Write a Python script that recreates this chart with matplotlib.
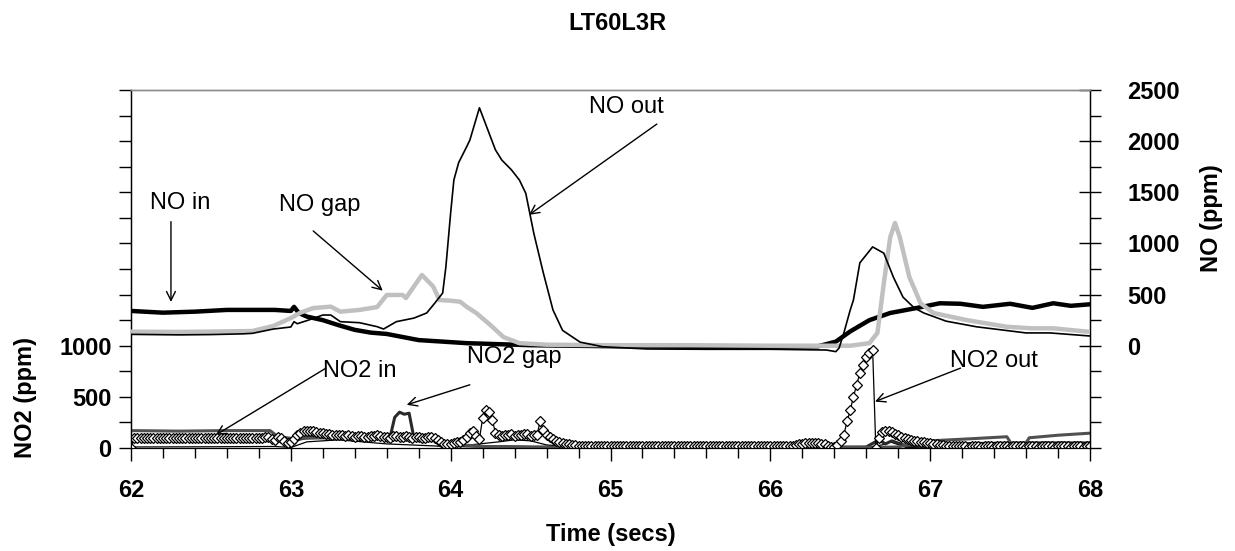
import numpy as np
import matplotlib.pyplot as plt
from matplotlib.ticker import FixedLocator, NullFormatter

plt.rcParams['font.family'] = ['Liberation Sans', 'DejaVu Sans']

no_in_t = [62.0, 62.2, 62.4, 62.6, 62.9, 63.0, 63.02, 63.05, 63.1, 63.2, 63.3, 63.4,
           63.5, 63.6, 63.7, 63.8, 63.9, 64.0, 64.1, 64.3, 64.5, 65.0, 65.5, 66.0,
           66.3, 66.41, 66.5, 66.62, 66.75, 66.92, 67.06, 67.19, 67.33, 67.5, 67.64,
           67.77, 67.88, 68.0]
no_in = [340, 323, 333, 350, 350, 340, 380, 320, 285, 250, 200, 155,
         128, 115, 85, 55, 45, 35, 25, 15, 5, -5, -10, -10,
         -5, 40, 140, 250, 320, 370, 415, 410, 380, 410, 370,
         415, 390, 405]

no_gap_t = [62.0, 62.3, 62.5, 62.76, 62.89, 63.0, 63.06, 63.14, 63.25, 63.31, 63.43,
            63.54, 63.6, 63.7, 63.72, 63.82, 63.89, 63.93, 64.0, 64.06, 64.1, 64.16,
            64.25, 64.33, 64.43, 64.6, 65.0, 65.5, 66.0, 66.5, 66.62, 66.67, 66.71,
            66.75, 66.78, 66.81, 66.87, 66.94, 67.02, 67.23, 67.48, 67.64, 67.77, 68.0]
no_gap = [137, 135, 138, 144, 193, 270, 323, 368, 382, 333, 350,
          378, 496, 496, 466, 692, 580, 447, 440, 430, 380, 320,
          200, 85, 25, 10, 5, 5, 0, 0, 25, 125, 610,
          1060, 1200, 1060, 670, 415, 320, 250, 185, 170, 170, 135]

no_out_t = [62.0, 62.3, 62.5, 62.7, 62.76, 62.89, 63.0, 63.02, 63.04, 63.1, 63.2, 63.25,
            63.31, 63.43, 63.54, 63.58, 63.66, 63.77, 63.85, 63.9, 63.95, 63.97, 64.0,
            64.02, 64.05, 64.1, 64.12, 64.18, 64.28, 64.32, 64.38, 64.43, 64.47, 64.52,
            64.58, 64.64, 64.7, 64.81, 64.92, 64.95, 65.23, 65.6, 66.0, 66.35, 66.41,
            66.43, 66.46, 66.5, 66.52, 66.56, 66.64, 66.71, 66.77, 66.83, 66.9, 66.96,
            67.1, 67.29, 67.6, 67.75, 68.0]
no_out = [111, 106, 109, 116, 121, 163, 183, 235, 215, 245, 300, 300,
          235, 225, 186, 163, 235, 270, 320, 415, 515, 770, 1300,
          1620, 1790, 1945, 2010, 2326, 1915, 1815, 1720, 1620, 1490, 1100,
          710, 350, 150, 35, 0, -10, -32, -35, -35, -42, -58,
          -23, 125, 350, 447, 810, 966, 905, 670, 475, 370, 320,
          240, 185, 125, 125, 95]

# ---- NO2 traces (left axis)
no2_in_t = [62.0, 62.3, 62.6, 62.87, 62.92, 63.0, 63.3, 63.6, 63.9, 64.0, 64.2, 64.5,
            65.0, 66.0, 66.6, 66.8, 66.9, 67.0, 67.25, 67.48, 67.52, 67.58, 67.62,
            67.8, 68.0]
no2_in = [170, 165, 170, 170, 110, 95, 100, 95, 90, 40, 15, 5,
          3, 3, 5, 10, 45, 70, 90, 110, 10, 5, 100,
          125, 145]

no2_gap_t = [62.0, 62.5, 62.9, 63.0, 63.1, 63.3, 63.5, 63.62, 63.65, 63.68, 63.71,
             63.74, 63.77, 63.9, 64.0, 64.2, 64.5, 65.0, 66.0, 66.6, 66.68, 66.72,
             66.76, 66.85, 67.0, 67.3, 67.6, 68.0]
no2_gap = [75, 78, 80, 70, 100, 110, 95, 100, 300, 350, 330,
           340, 100, 90, 25, 15, 10, 8, 8, 10, 80, 40,
           70, 20, 30, 45, 50, 50]

no2_ref_t = [62.0, 62.5, 62.9, 63.0, 63.1, 63.3, 63.6, 63.9, 64.0, 64.3, 64.4, 64.5,
             64.6, 64.8, 66.6, 66.7, 66.75, 66.85, 67.0, 68.0]
no2_ref = [10, 12, 15, 5, 60, 80, 40, 20, 10, 60, 80, 70,
           30, 5, 5, 30, 60, 5, 0, 5]

# NO2 out is logged every 0.02 s from 62.00 s
no2_out = [
    0,
    98, 100, 101, 99, 97, 100, 102, 100, 98, 99, 101, 100, 97, 99, 100, 102, 99, 98,
    100, 101, 99, 97, 100, 102, 100, 99, 98, 100, 101, 99, 100, 98, 97, 100, 102, 100,
    99, 101, 100, 98, 100, 103,
    105, 90, 80, 110, 95, 70, 45, 55, 90, 130, 150, 165, 170, 165, 170, 160, 150,
    145, 140, 135, 130, 125, 130, 125, 120, 125, 115,
    110, 115, 120, 110, 105, 115, 120, 125, 120, 110,
    105, 100, 115, 120, 110, 105, 115, 110, 100, 105,
    110, 100, 95, 105, 110, 100, 80, 60, 40, 35,
    40, 45, 55, 60, 80, 110, 150, 165, 120, 90,
    290, 370, 350, 275, 150, 130, 120, 130, 125, 135,
    120, 130, 125, 135, 140, 120, 130, 125, 265, 175,
    130, 110, 90, 70, 55, 45, 40, 35, 30, 26,
    20, 18, 17, 16, 17, 18, 17, 16, 17, 17,
    18, 17, 16, 17, 18, 17, 17, 16, 17, 18,
    17, 17, 16, 17, 18, 17, 16, 17, 17, 18,
    17, 16, 17, 18, 17, 17, 16, 17, 18, 17,
    17, 16, 17, 18, 17, 16, 17, 17, 18, 17,
    16, 17, 18, 17, 17, 16, 17, 18, 17, 17,
    16, 17, 18, 17, 16, 17, 17, 18, 25, 35,
    40, 50, 50, 45, 45, 45, 40, 35, 20, 5,
    5, 30, 70, 130, 260, 370, 500, 620, 730, 815, 890, 930, 960,
    0, 100, 160, 170, 165, 155, 140, 125, 110, 100, 90, 80, 72, 65, 60, 55, 50, 45,
    40, 35, 30, 26,
    22, 20, 18, 16, 15, 16, 15, 14, 15, 16,
    15, 14, 15, 16, 15, 14, 15, 15, 16, 15,
    14, 15, 16, 15, 15, 14, 15, 16, 15, 14,
    15, 15, 16, 15, 14, 15, 16, 15, 15, 14,
    15, 16, 15, 14, 15, 15,
]
no2_out_t = np.round(62.0 + 0.02 * np.arange(len(no2_out)), 2)

fig = plt.figure(figsize=(12.35, 5.51), dpi=100)
ax = fig.add_axes([131 / 1235, 1 - 448 / 551, 959 / 1235, 358 / 551])
ax2 = ax.twinx()

# lower group: NO2
ax.plot(no2_ref_t, no2_ref, color='black', lw=0.9, zorder=2)
ax.plot(no2_gap_t, no2_gap, color='#2a2a2a', lw=2.2, zorder=3)
ax.plot(no2_in_t, no2_in, color='#505050', lw=2.2, zorder=3)
ax.plot(no2_out_t, no2_out, color='black', lw=0.9, marker='D', ms=5,
        mfc='white', mec='black', mew=0.9, zorder=4)

# upper group: NO
ax2.plot(no_in_t, no_in, color='black', lw=3.2, zorder=3)
ax2.plot(no_gap_t, no_gap, color='#c0c0c0', lw=3.2, zorder=3)
ax2.plot(no_out_t, no_out, color='black', lw=1.2, zorder=4)

ax.set_xlim(62, 68)
ax.set_ylim(0, 3500)
ax2.set_ylim(-1000, 2500)

tick_font = dict(fontsize=17, fontweight='bold')
ax.set_xticks(np.arange(62, 69, 1))
ax.set_xticklabels([str(v) for v in range(62, 69)], **tick_font)
ax.xaxis.set_minor_locator(FixedLocator(np.arange(62, 68.01, 0.2)))
ax.tick_params(axis='x', which='major', direction='out', length=9, width=1, pad=13)
ax.tick_params(axis='x', which='minor', direction='out', length=7, width=1)

left_ticks = np.arange(0, 3501, 250)
ax.set_yticks(left_ticks)
ax.set_yticklabels([str(v) if v in (0, 500, 1000) else '' for v in left_ticks], **tick_font)
ax.tick_params(axis='y', direction='out', length=9, width=1, pad=5)

ax2.set_yticks(np.arange(0, 2501, 500))
ax2.set_yticklabels([str(v) for v in range(0, 2501, 500)], **tick_font)
ax2.yaxis.set_minor_locator(FixedLocator([v for v in range(-1000, 2501, 250) if v % 500 or v < 0]))
ax2.yaxis.set_minor_formatter(NullFormatter())
ax2.tick_params(axis='y', which='major', direction='inout', length=16, width=1, pad=19)
ax2.tick_params(axis='y', which='minor', direction='out', length=8, width=1)

for a in (ax, ax2):
    a.spines['top'].set_color('#8c8c8c')
    a.spines['top'].set_linewidth(1)
ax.spines['left'].set_linewidth(1)
ax2.spines['right'].set_linewidth(1)

ax.set_xlabel('Time (secs)', fontsize=17, fontweight='bold')
ax.xaxis.set_label_coords(0.5, -0.21)
ax.set_ylabel('NO2 (ppm)', fontsize=17, fontweight='bold')
ax.yaxis.set_label_coords(-0.098, 0.14)
ax2.set_ylabel('NO (ppm)', fontsize=17, fontweight='bold')
ax2.yaxis.set_label_coords(1.115, 0.642)

fig.text(0.5, 1 - 24 / 551, 'LT60L3R', ha='center', va='center',
         fontsize=17, fontweight='bold')

arrow = dict(arrowstyle='->', color='black', lw=1, shrinkA=0, shrinkB=0,
             mutation_scale=16)
note_font = dict(fontsize=17, ha='center', va='center')

# NO callouts (right axis)
ax2.annotate('', xy=(62.25, 428), xytext=(62.25, 1213), arrowprops=arrow)
ax2.text(62.31, 1393, 'NO in', **note_font)
ax2.annotate('', xy=(63.575, 538), xytext=(63.14, 1122), arrowprops=arrow)
ax2.text(63.18, 1377, 'NO gap', **note_font)
ax2.annotate('', xy=(64.49, 1279), xytext=(65.29, 2167), arrowprops=arrow)
ax2.text(65.10, 2335, 'NO out', **note_font)

# NO2 callouts (left axis)
ax.annotate('', xy=(62.53, 127), xytext=(63.22, 781), arrowprops=arrow)
ax.text(63.43, 748, 'NO2 in', **note_font)
ax.annotate('', xy=(63.725, 422), xytext=(64.12, 618), arrowprops=arrow)
ax.text(64.40, 892, 'NO2 gap', **note_font)
ax.annotate('', xy=(66.655, 454), xytext=(67.19, 781), arrowprops=arrow)
ax.text(67.40, 855, 'NO2 out', **note_font)

fig.savefig('out.png', dpi=100)
